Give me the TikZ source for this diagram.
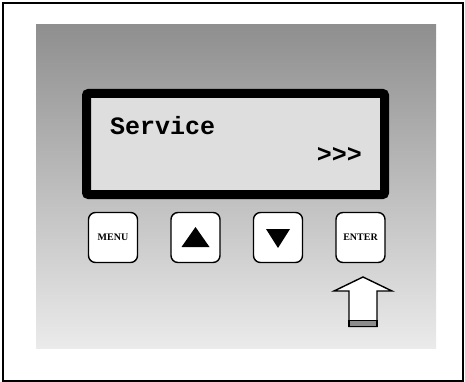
\documentclass[tikz,border=0pt]{standalone}
\usepackage{fontspec}
\setmainfont{Liberation Serif}
\newfontfamily\lcdfont{Liberation Mono}
\usetikzlibrary{positioning,calc}

\begin{document}
\begin{tikzpicture}[x=1pt, y=-1pt,
    frame/.style={draw=black, line width=1.5pt},
    panel/.style={top color=black!44, middle color=black!16, bottom color=black!8},
    lcd/.style={draw=black, line width=9pt, fill=black!13, rounded corners=2pt, minimum width=298pt, minimum height=101pt, inner sep=0pt},
    lcdtext/.style={font=\lcdfont\bfseries\fontsize{25}{25}\selectfont, inner sep=0pt},
    key/.style={draw=black, line width=1.4pt, fill=white, rounded corners=7pt, minimum width=49pt, minimum height=50pt, inner sep=0pt, font=\bfseries\fontsize{10}{10}\selectfont},
    pointer/.style={draw=black, line width=1.4pt, fill=white, line join=miter},
]

\useasboundingbox (0,0) rectangle (465,382);
\draw[frame] (3,3) rectangle (463,381);

% Panel
\shade[panel] (36,25) rectangle (436,348);

% Display
\node[lcd] (lcd) at (235.5,144) {};
\node[lcdtext, anchor=base west] (service) at (110,135) {Service};
\node[lcdtext, anchor=base east] (more) at (362,163) {>{}>{}>};

% Keys
\node[key] (menu) at (113,237.5) {MENU};
\node[key] (up) at (195.5,237.5) {};
\node[key] (down) at (278,237.5) {};
\node[key] (enter) at (360.5,237.5) {ENTER};

\fill ([shift={(-14,9.5)}]up.center) -- ([shift={(14,9.5)}]up.center) -- ([shift={(0,-10.5)}]up.center) -- cycle;
\fill ([shift={(-12,-8.5)}]down.center) -- ([shift={(12,-8.5)}]down.center) -- ([shift={(0,10.5)}]down.center) -- cycle;

% Press arrow
\coordinate (tip) at (363,277);
\draw[pointer] (tip) -- (392,291) -- (377,291) -- (377,326.5) -- (349,326.5) -- (349,291) -- (334,291) -- cycle;
\draw[pointer, fill=black!45] (349,320.5) rectangle (377,326.5);

\end{tikzpicture}
\end{document}
